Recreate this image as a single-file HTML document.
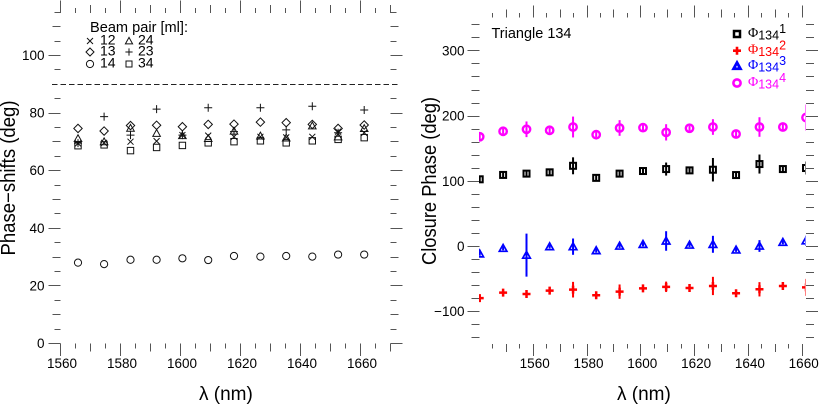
<!DOCTYPE html>
<html><head><meta charset="utf-8"><title>Phase-shifts and closure phase</title>
<style>
html,body{margin:0;padding:0;background:#fff}
svg{display:block;font-family:"Liberation Sans",sans-serif}
text{fill:#000}
</style></head>
<body>
<svg id="chart" xmlns="http://www.w3.org/2000/svg" width="819" height="406" viewBox="0 0 819 406">
<defs><clipPath id="rightClip"><rect x="479" y="0" width="326.5" height="406"/></clipPath></defs>
<rect width="819" height="406" fill="#fff"/>
<g id="left"></g>
<g id="right"></g>
<text transform="translate(15,178) rotate(-90)" text-anchor="middle" font-size="20" textLength="155" lengthAdjust="spacingAndGlyphs">Phase−shifts (deg)</text>
<text x="199" y="400" font-size="19">λ (nm)</text>
<text transform="translate(436,181) rotate(-90)" text-anchor="middle" font-size="20" textLength="168" lengthAdjust="spacingAndGlyphs">Closure Phase (deg)</text>
<text x="617" y="400" font-size="19">λ (nm)</text>
<line x1="52" x2="399" y1="84.5" y2="84.5" stroke="#222" stroke-width="1" stroke-dasharray="5.5 3"/>
<text x="90" y="32" font-size="14.5" textLength="98" lengthAdjust="spacingAndGlyphs">Beam pair [ml]:</text>
<text x="491.5" y="38" font-size="14.5" textLength="80" lengthAdjust="spacingAndGlyphs">Triangle 134</text>
</svg>
<script>
// ---- data ----
const wavelengthsNm = [1540.3,1549,1557.7,1566.3,1575,1583.6,1592.3,1601,1609.6,1618.3,1627,1635.6,1644.3,1653,1661.6];
const leftWavelengthsNm = [1566,1574.7,1583.5,1592.2,1600.8,1609.4,1618,1626.8,1635.4,1644.1,1652.7,1661.4];
const leftXTickLabels = [1560,1580,1600,1620,1640,1660];
const leftYTickLabels = [100,80,60,40,20,0];
const rightXTickLabels = [1560,1580,1600,1620,1640,1660];
const rightYTickLabels = [300,200,100,0,-100];

const pair12 = [69.3,69.5,69.9,70.1,72.2,72,71.6,71.6,71.4,71.6,73.4,73];
const pair13 = [74.5,73.6,75.5,75.6,75.1,75.9,76,76.7,76.5,75.9,74.5,75.7];
const pair14 = [27.9,27.4,28.9,28.9,29.4,28.8,30.2,30,30.2,30,30.7,30.7];
const pair24 = [71,69.9,74.6,72.8,72,71,73.6,71.9,71.2,75.4,71.6,74.5];
const pair23 = [69.4,78.6,72.2,81.2,72.2,81.7,73.4,81.7,74,82.2,73,80.9];
const pair34 = [68.5,68.8,66.8,67.9,68.6,69.5,69.9,70.2,69.5,70.2,70.7,71.3];

const phi1 = [102.3,109,111,113,123,104.5,111,115,118,116,117,108.8,125.7,118,119.6];
const phi1Err = [4,4,4,4,13,4,4,4,10,4,18,4,14.6,4,10];
const phi2 = [-80,-71.6,-73.6,-68.5,-67,-75.6,-70,-65,-62.6,-64.4,-61.3,-72.5,-66.4,-61.3,-63.4];
const phi2Err = [4,3,6,4,12,4,11,4,8,3,14,3,11,3,13];
const phi3 = [-12,-3.5,-14,-1,-1,-7,0,2.6,7.7,1.5,2.6,-6,0,5.7,8];
const phi3Err = [3,3,33,3,12.5,3,3,3,15,3,13,3,9,3,8];
const phi4 = [167.6,175.9,179,177.4,182.5,170.7,181,181.5,174.3,180.6,182.5,171.8,182.5,182.5,197];
const phi4Err = [5,4,12,4,16,4,12,4,12.5,4,12,4,15,4,20];

// ---- axis functions ----
const leftX = nm => 60 + (nm - 1560) * 3;
const leftY = deg => 343 - deg * 2.88;
const rightX = nm => 532.7 + (nm - 1560) * 2.69;
const rightY = deg => 246 - deg * 0.652;

const NS = 'http://www.w3.org/2000/svg';
function mk(tag, parent, props) {
  const el = document.createElementNS(NS, tag);
  for (const k in props) el.setAttribute(k, props[k]);
  parent.appendChild(el);
  return el;
}
const TICK = '#555';
function tick(parent, name, x1, y1, x2, y2) {
  const el = mk('line', parent, {x1, y1, x2, y2, stroke: TICK, 'stroke-width': 1});
  
  
}
function label(parent, name, x, y, anchor, str, size) {
  const el = mk('text', parent, {x, y, 'text-anchor': anchor, 'font-size': size || 13.5});
  
  
  el.textContent = str;
}
function drawMarker(parent, kind, x, y, r, color, sw) {
  let el;
  const base = {fill: 'none', stroke: color, 'stroke-width': sw};
  if (kind === 'x') el = mk('path', parent, {...base, d: `M${x-r} ${y-r}L${x+r} ${y+r}M${x-r} ${y+r}L${x+r} ${y-r}`});
  if (kind === 'plus') el = mk('path', parent, {...base, d: `M${x-r} ${y}L${x+r} ${y}M${x} ${y-r}L${x} ${y+r}`});
  if (kind === 'diamond') el = mk('path', parent, {...base, d: `M${x} ${y-r}L${x+r} ${y}L${x} ${y+r}L${x-r} ${y}Z`});
  if (kind === 'circle') el = mk('circle', parent, {...base, cx: x, cy: y, r});
  if (kind === 'triangle') el = mk('path', parent, {...base, d: `M${x} ${y-r}L${x+r} ${y+r*0.8}L${x-r} ${y+r*0.8}Z`});
  if (kind === 'square') el = mk('rect', parent, {...base, x: x-r, y: y-r, width: 2*r, height: 2*r});
  
  
  return el;
}

// ---- left panel ----
const L = document.getElementById('left');
for (let nm = 1560; nm <= 1670; nm += 5) {
  const x = Math.round(leftX(nm)) + 0.5;
  const len = nm % 20 === 0 ? 12.5 : nm % 10 === 0 ? 8 : 5;
  tick(L, 'left-top-tick', x, 13, x, 13 - len);
  tick(L, 'left-bottom-tick', x, 343.5, x, 343.5 + len);
}
for (let d = 0; d <= 115; d += 5) {
  if (d === 90) continue;
  const y = Math.round(leftY(d)) + 0.5;
  const len = d % 20 === 0 ? 12 : d % 10 === 0 ? 8 : 6;
  tick(L, 'left-y-tick', 60.5, y, 60.5 - len, y);
  tick(L, 'left-right-y-tick', 390.5, y, 390.5 + len, y);
}
leftXTickLabels.forEach(v => label(L, 'left-x-tick-label', leftX(v) + 2, 368, 'middle', String(v)));
leftYTickLabels.forEach(v => label(L, 'left-y-tick-label', 44.5, leftY(v) + 5, 'end', String(v)));

const leftSeries = [[pair14,'circle',3.6],[pair34,'square',3.2],[pair24,'triangle',3.8],[pair13,'diamond',4.2],[pair23,'plus',4],[pair12,'x',3]];
leftSeries.forEach(s => {
  const g = mk('g', L, {});
  
  
  s[0].forEach((v, i) => drawMarker(g, s[1], leftX(leftWavelengthsNm[i]), leftY(v), s[2], '#111', 1));
});

// left legend
const legendRows = [['x','12',90,100,41],['diamond','13',90,100,52],['circle','14',90,100,64],['triangle','24',129,138,41],['plus','23',129,138,52],['square','34',129,138,64]];
legendRows.forEach(r => {
  const sz = {x:3,diamond:4,circle:3.6,triangle:3.6,plus:3.6,square:3}[r[0]];
  drawMarker(L, r[0], r[2], r[4], sz, '#111', 1);
  label(L, 'legend-entry-' + r[1], r[3], r[4] + 3.5, 'start', r[1], 14);
});

// ---- right panel ----
const R = document.getElementById('right');
for (let nm = 1545; nm <= 1660; nm += 5) {
  const x = Math.round(rightX(nm)) + 0.5;
  const len = nm % 20 === 0 ? 12 : nm % 10 === 0 ? 8 : 4.5;
  tick(R, 'right-top-tick', x, 17.5, x, 17.5 - len);
  tick(R, 'right-bottom-tick', x, 344, x, 344 + len);
}
for (let d = -140; d <= 340; d += 20) {
  const y = Math.round(rightY(d)) + 0.5;
  const len = d % 100 === 0 ? 12 : 8;
  tick(R, 'right-y-tick', 479.5, y, 479.5 - len, y);
  tick(R, 'right-side-y-tick', 806, y, 806 + len, y);
}
rightXTickLabels.forEach(v => label(R, 'right-x-tick-label', rightX(v) + 2, 368, 'middle', String(v)));
rightYTickLabels.forEach(v => label(R, 'right-y-tick-label', 464.5, rightY(v) + 5, 'end', v < 0 ? '−' + (-v) : String(v)));

const rightSeries = [[phi1,phi1Err,'square',3,'#000',2],[phi2,phi2Err,'plus',4,'#f00',2.5],[phi3,phi3Err,'triangle',3.8,'#00f',1.7],[phi4,phi4Err,'circle',3.7,'#f0f',2.4]];
const plot = mk('g', R, {'clip-path': 'url(#rightClip)'});


rightSeries.forEach((s, n) => {
  const g = mk('g', plot, {});
  
  
  s[0].forEach((v, i) => {
    const x = rightX(wavelengthsNm[i]);
    const eb = mk('line', g, {x1: x, x2: x, y1: rightY(v - s[1][i]), y2: rightY(v + s[1][i]), stroke: s[4], 'stroke-width': 2});
    
    
    drawMarker(g, s[2], x, rightY(v), s[3], s[4], s[5]);
  });
});

// right legend
const phiLegend = [['square',3,'#000','1',34,2.5],['plus',4,'#f00','2',50.7,2.6],['triangle',3.4,'#00f','3',66,2.8],['circle',3.6,'#f0f','4',83,2.6]];
phiLegend.forEach(r => {
  drawMarker(R, r[0], 737, r[4], r[1], r[2], r[5]);
  const t = mk('text', R, {x: 748, y: r[4] + 3, 'font-size': 13, style: 'fill:' + r[2]});
  
  
  const a = mk('tspan', t, {'font-family': '"Liberation Serif",serif', 'font-size': 14});
  a.textContent = 'Φ';
  const b = mk('tspan', t, {dy: 2.5, 'font-size': 12.5});
  b.textContent = '134';
  const c = mk('tspan', t, {dy: -6.5, 'font-size': 12.5});
  c.textContent = r[3];
});
</script>
</body></html>
